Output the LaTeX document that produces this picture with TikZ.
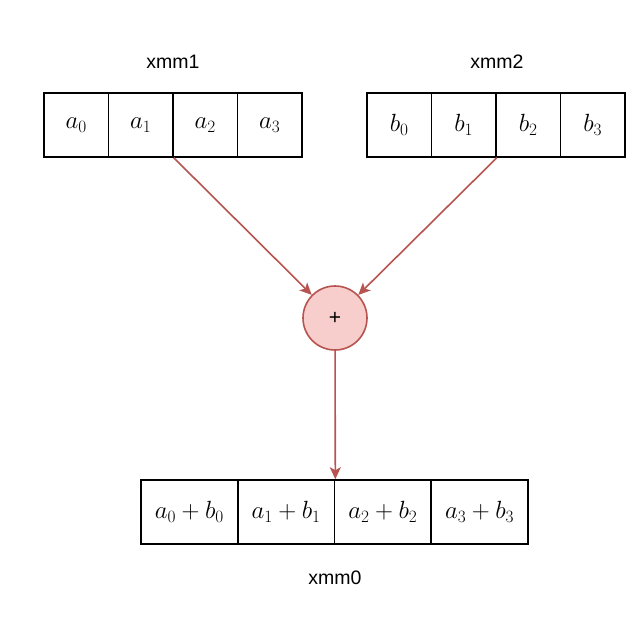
\documentclass[tikz,border=0pt]{standalone}
\usepackage{fontspec}
\newfontfamily\labelfont{Liberation Sans}
\usetikzlibrary{arrows.meta}
\definecolor{redline}{HTML}{B85450}
\definecolor{redfill}{HTML}{F8CECC}
\begin{document}
\begin{tikzpicture}[x=1pt,y=-1pt,
  cell/.style={draw=black,line width=1.6pt,minimum width=64.5pt,minimum height=64pt,inner sep=0pt,font=\fontsize{24.5}{28}\selectfont},
  wcell/.style={cell,minimum width=96.75pt},
  reglabel/.style={font=\labelfont\fontsize{19.5}{22}\selectfont},
  conn/.style={draw=redline,line width=1.6pt,-{Stealth[length=12pt,width=11pt,inset=3pt]}}]
\useasboundingbox[fill=white] (0,0) rectangle (640,619);
\foreach \i in {0,...,3}{
  \node[cell] (a\i) at ({76.25+64.5*\i},125) {$a_\i$};
  \node[cell] (b\i) at ({399.25+64.5*\i},125) {$b_\i$};
  \node[wcell] (c\i) at ({189.4+96.75*\i},512) {$a_\i+b_\i$};
}
\node[reglabel] (l1) at (173,62) {xmm1};
\node[reglabel] (l2) at (497,62) {xmm2};
\node[reglabel] (l0) at (335,578) {xmm0};
\node[circle,draw=redline,fill=redfill,line width=1.6pt,minimum size=64pt,inner sep=0pt,font=\labelfont\fontsize{21}{24}\selectfont] (plus) at (335,318) {+};
\draw[conn] (a1.south east) -- (plus);
\draw[conn] (b1.south east) -- (plus);
\draw[conn] (plus) -- (c1.north east);
\end{tikzpicture}
\end{document}
